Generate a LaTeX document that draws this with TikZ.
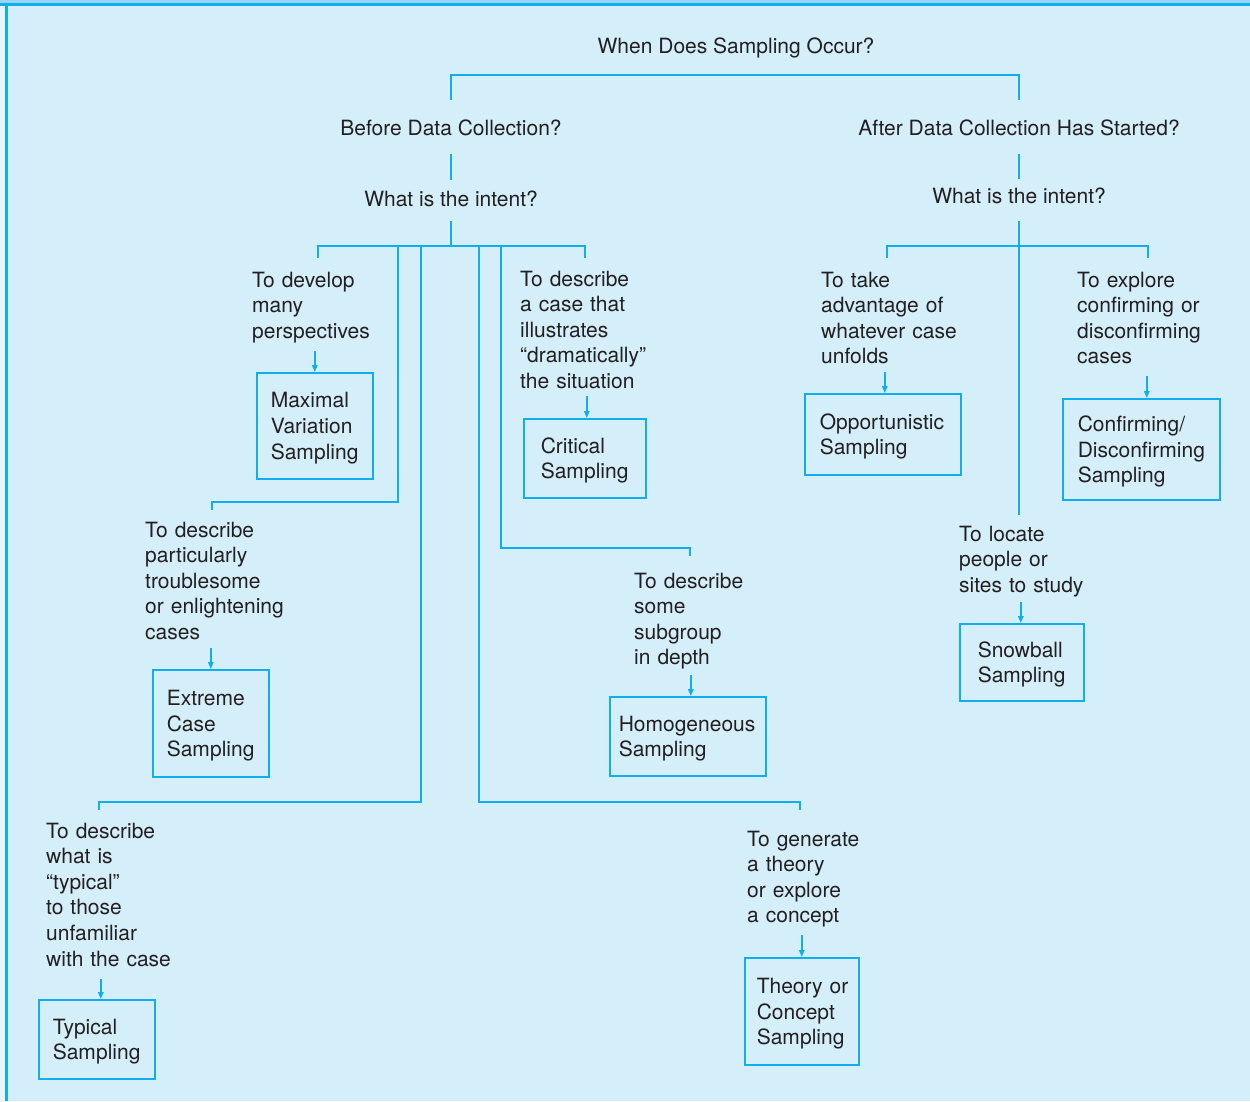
\documentclass[tikz,border=0pt]{standalone}
\usepackage{fontspec}
\setmainfont{TeX Gyre Heros}
\usetikzlibrary{arrows.meta}
\definecolor{panel}{RGB}{212,238,250}
\definecolor{rim}{RGB}{150,214,244}
\definecolor{margin}{RGB}{232,246,253}
\definecolor{cyanline}{RGB}{16,174,236}
\definecolor{ink}{RGB}{35,31,32}
\newcommand\diagfont{\fontsize{21}{25.6}\selectfont\hyphenpenalty=10000\exhyphenpenalty=10000}

\begin{document}
\begin{tikzpicture}[x=1pt,y=-1pt,
  conn/.style={draw=cyanline,line width=1.6pt},
  arrowed/.style={conn,-{Triangle[length=7pt,width=5.5pt]}},
  head/.style={inner sep=0pt,text=ink,font=\diagfont,text height=15pt,text depth=5pt,anchor=base},
  note/.style={inner sep=0pt,text=ink,font=\diagfont,align=left,text width=200pt,anchor=base west},
  sampbox/.style={draw=cyanline,line width=1.6pt,inner sep=0pt,text=ink,font=\diagfont,align=left,text height=20pt,anchor=north west}
]
% panel and frame
\useasboundingbox (0,0) rectangle (1250,1101);
\fill[margin] (0,0) rectangle (1250,1101);
\fill[panel] (6,3) rectangle (1250,1101);
\fill[rim] (0,0) rectangle (1250,3);
\draw[cyanline,line width=3pt] (0,4.5) -- (1250,4.5);
\draw[cyanline,line width=2.5pt] (6.3,3) -- (6.3,1101);

% questions
\node[head] (q)  at (736,53)  {When Does Sampling Occur?};
\node[head] (b)  at (451,135) {Before Data Collection?};
\node[head] (a)  at (1019,135) {After Data Collection Has Started?};
\node[head] (wl) at (451,206) {What is the intent?};
\node[head] (wr) at (1019,203) {What is the intent?};

% intents before data collection
\node[note] (dm) at (252,287) {To develop\\many\\perspectives};
\node[note] (dc) at (520,286) {To describe\\a case that\\illustrates\\“dramatically”\\the situation};
\node[note] (tr) at (145,537) {To describe\\particularly\\troublesome\\or enlightening\\cases};
\node[note] (sg) at (634,588) {To describe\\some\\subgroup\\in depth};
\node[note] (ty) at (46,838)  {To describe\\what is\\“typical”\\to those\\unfamiliar\\with the case};
\node[note] (ge) at (747,846) {To generate\\a theory\\or explore\\a concept};

% intents after data collection has started
\node[note] (ta) at (821,287)  {To take\\advantage of\\whatever case\\unfolds};
\node[note] (ex) at (1077,287) {To explore\\confirming or\\disconfirming\\cases};
\node[note] (lo) at (959,541)  {To locate\\people or\\sites to study};

% sampling strategies
\node[sampbox,minimum width=116pt,minimum height=106pt,text width=88pt]  (mvs) at (256,372)  {Maximal\\Variation\\Sampling};
\node[sampbox,minimum width=122pt,minimum height=79pt,text width=88pt]   (cs)  at (523,418)  {Critical\\Sampling};
\node[sampbox,minimum width=116pt,minimum height=107pt,text width=88pt]  (es)  at (152,669)  {Extreme\\Case\\Sampling};
\node[sampbox,minimum width=156pt,minimum height=79pt,text width=138pt]  (hs)  at (609,696)  {Homogeneous\\Sampling};
\node[sampbox,minimum width=116pt,minimum height=79pt,text width=88pt]   (tys) at (38,999)   {Typical\\Sampling};
\node[sampbox,minimum width=114pt,minimum height=107pt,text width=90pt]  (tcs) at (744,957)  {Theory~or\\Concept\\Sampling};
\node[sampbox,minimum width=156pt,minimum height=81pt,text width=126pt]  (os)  at (804,393)  {Opportunistic\\Sampling};
\node[sampbox,minimum width=157pt,minimum height=101pt,text width=127pt] (cds) at (1062,398) {Confirming/\\Disconfirming\\Sampling};
\node[sampbox,minimum width=124pt,minimum height=77pt,text width=88pt]   (ss)  at (959,623)  {Snowball\\Sampling};

% junctions and branch ends of the tree
\coordinate (topfork) at (736,75);
\coordinate (tipb) at (451,100);
\coordinate (tipa) at (1019,100);
\coordinate (lfork) at (451,246);
\coordinate (rfork) at (1019,246);
\coordinate (tipdm) at (318,258);
\coordinate (tipdc) at (585,258);
\coordinate (tiptr) at (212,510);
\coordinate (tipty) at (99,810);
\coordinate (tipge) at (800,810);
\coordinate (tipsg) at (690,556);
\coordinate (tipta) at (887,258);
\coordinate (tipex) at (1148,258);
\coordinate (tiplo) at (1019,515);

% top split
\draw[conn] (tipb) |- (topfork) -| (tipa);
\draw[conn] ([yshift=-14pt]b.south) -- ([yshift=11pt]wl.north);
\draw[conn] ([yshift=-14pt]a.south) -- ([yshift=9pt]wr.north);

% left tree
\draw[conn] ([yshift=-10pt]wl.south) -- (lfork);
\draw[conn] (tipdm) |- (lfork) -| (tipdc);
\draw[conn] ([xshift=-53pt]lfork) |- ([yshift=8pt]tiptr) -- (tiptr);
\draw[conn] ([xshift=-30pt]lfork) |- ([yshift=8pt]tipty) -- (tipty);
\draw[conn] ([xshift=28pt]lfork)  |- ([yshift=8pt]tipge) -- (tipge);
\draw[conn] ([xshift=50pt]lfork)  |- ([yshift=8pt]tipsg) -- (tipsg);

% right tree
\draw[conn] ([yshift=-13pt]wr.south) -- (tiplo);
\draw[conn] (tipta) |- (rfork) -| (tipex);

% arrows into the strategy boxes
\draw[arrowed] ([yshift=21pt]mvs.north) -- (mvs.north);
\draw[arrowed] ([xshift=2pt,yshift=22pt]cs.north) -- ([xshift=2pt]cs.north);
\draw[arrowed] ([yshift=21pt]es.north) -- (es.north);
\draw[arrowed] ([xshift=3pt,yshift=21pt]hs.north) -- ([xshift=3pt]hs.north);
\draw[arrowed] ([xshift=4pt,yshift=20pt]tys.north) -- ([xshift=4pt]tys.north);
\draw[arrowed] ([yshift=22pt]tcs.north) -- (tcs.north);
\draw[arrowed] ([xshift=2pt,yshift=21pt]os.north) -- ([xshift=2pt]os.north);
\draw[arrowed] ([xshift=5.5pt,yshift=22pt]cds.north) -- ([xshift=5.5pt]cds.north);
\draw[arrowed] ([xshift=-1pt,yshift=21pt]ss.north) -- ([xshift=-1pt]ss.north);
\end{tikzpicture}
\end{document}
